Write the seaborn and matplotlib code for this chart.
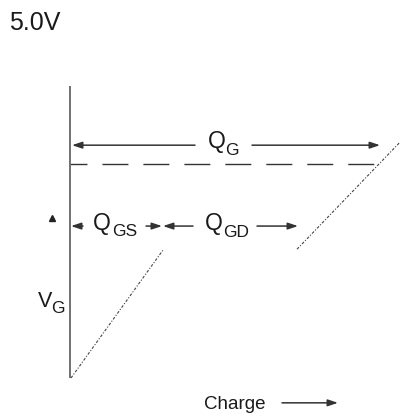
import matplotlib
matplotlib.use("Agg")
import matplotlib.pyplot as plt
import seaborn as sns
import pandas as pd

# ---- data (charge in nC, gate voltage in V) ----
ramp_gs_charge = [0.1, 9.3]      # first VG rise (Q_GS region)
ramp_gs_vg = [0.0, 2.99]
ramp_gd_charge = [22.7, 33.0]    # second VG rise (after Q_GD plateau)
ramp_gd_vg = [3.01, 5.51]
vg_level = 5.0                   # drive level 5.0V
level_charge = [0.0, 30.8]
q_gs_end = 9.2
q_gd_end = 22.8
q_g_end = 31.0
axis_top = 6.82

sns.set_theme(style="white")
plt.rcParams['font.family'] = ['Liberation Sans', 'DejaVu Sans']

fig = plt.figure(figsize=(4.0, 4.17), dpi=100)
ax = fig.add_axes([0, 0, 1, 1])
ax.set_xlim(-7.0, 33.0)
ax.set_ylim(-0.911, 8.832)
ax.axis('off')

ramp_style = dict(color='#444444', linewidth=0.8, linestyle=(0, (2.5, 1.5, 1, 1.5)))
sns.lineplot(x=ramp_gs_charge, y=ramp_gs_vg, ax=ax, **ramp_style)
sns.lineplot(x=ramp_gd_charge, y=ramp_gd_vg, ax=ax, **ramp_style)
sns.lineplot(x=level_charge, y=[vg_level] * len(level_charge), ax=ax,
             color='#333333', linewidth=1.0, linestyle=(6.5, (18.7, 10.8)))

# vertical VG axis
ax.plot([0, 0], [0, axis_top], color='#666666', linewidth=1.3, solid_capstyle='butt')
ax.plot([-1.8], [3.74], marker='^', markersize=4, color='#222222')

tc = '#1a1a1a'
def arrow(x0, x1, y):
    ax.annotate('', xy=(x1, y), xytext=(x0, y),
                arrowprops=dict(arrowstyle='-|>,head_length=0.6,head_width=0.2',
                                color='#333333', lw=1.1, shrinkA=0, shrinkB=0,
                                mutation_scale=10))

qs, ss = 16.5, 12.5

# Q_G
y_qg = 5.44
arrow(12.5, 0.2, y_qg)
arrow(18.2, q_g_end, y_qg)
ax.text(13.8, 5.37, 'Q', fontsize=qs, color=tc, va='baseline', ha='left')
ax.text(15.5, 5.21, 'G', fontsize=ss, color=tc, va='baseline', ha='left')

# Q_GS / Q_GD
y_row = 3.55
arrow(1.3, 0.1, y_row)
arrow(7.6, q_gs_end, y_row)
arrow(12.3, q_gs_end + 0.1, y_row)
arrow(18.7, q_gd_end, y_row)
ax.text(2.3, 3.46, 'Q', fontsize=qs, color=tc, va='baseline', ha='left')
ax.text(4.2, 3.32, 'GS', fontsize=ss, color=tc, va='baseline', ha='left')
ax.text(13.5, 3.46, 'Q', fontsize=qs, color=tc, va='baseline', ha='left')
ax.text(15.3, 3.29, 'GD', fontsize=ss, color=tc, va='baseline', ha='left')

# V_G
ax.text(-3.2, 1.66, 'V', fontsize=15.5, color=tc, va='baseline', ha='left')
ax.text(-1.9, 1.52, 'G', fontsize=ss, color=tc, va='baseline', ha='left')

# Charge axis label
ax.text(13.4, -0.72, 'Charge', fontsize=13.5, color=tc, va='baseline', ha='left')
arrow(21.2, 26.8, -0.58)

# 5.0V title
ax.text(-6.1, 8.13, '5.0V', fontsize=18, color=tc, va='baseline', ha='left')

fig.savefig('out.png', dpi=100)
